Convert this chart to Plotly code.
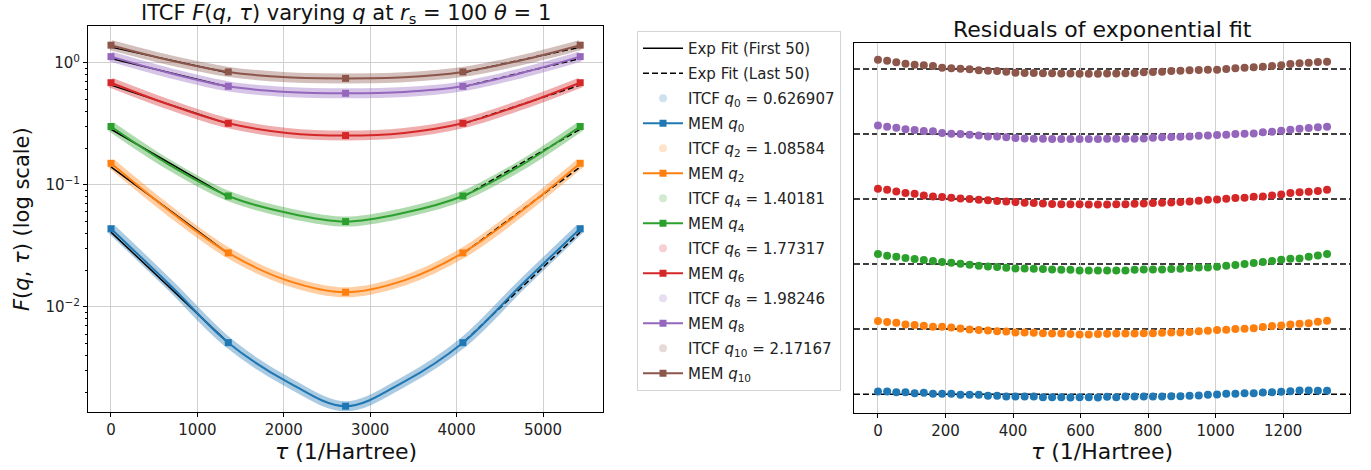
import numpy as np
import plotly.graph_objects as go

# ---------------- data ----------------
colors = ['#1f77b4', '#ff7f0e', '#2ca02c', '#d62728', '#9467bd', '#8c564b']
q_labels = ['0', '2', '4', '6', '8', '10']
q_values = ['0.626907', '1.08584', '1.40181', '1.77317', '1.98246', '2.17167']

# imaginary-time grid (1/Hartree) at which the curves were read
tau_grid = [0, 678.75, 1357.5, 2036.25, 2715, 3393.75, 4072.5, 4751.25, 5430]
F_q0 = [0.0437, 0.0152, 0.0051, 0.00245, 0.00154, 0.00245, 0.0051, 0.0152, 0.0437]
F_q2 = [0.150, 0.061, 0.0277, 0.0165, 0.0132, 0.0165, 0.0277, 0.061, 0.150]
F_q4 = [0.300, 0.145, 0.081, 0.059, 0.050, 0.059, 0.081, 0.145, 0.300]
F_q6 = [0.685, 0.452, 0.319, 0.266, 0.253, 0.266, 0.319, 0.452, 0.685]
F_q8 = [1.12, 0.822, 0.640, 0.575, 0.561, 0.575, 0.640, 0.822, 1.12]
F_q10 = [1.39, 1.047, 0.840, 0.759, 0.743, 0.759, 0.840, 1.047, 1.39]
F_all = [F_q0, F_q2, F_q4, F_q6, F_q8, F_q10]

# MEM markers are shown on every other grid point
mem_idx = [0, 2, 4, 6, 8]

# exponential fits (first 50 / last 50 points)
fit_first_tau = [0, 1330]
fit_last_tau = [4100, 5430]
fit_first = [[0.0410, 0.0053], [0.140, 0.0282], [0.285, 0.0815],
             [0.655, 0.320], [1.08, 0.640], [1.34, 0.835]]
fit_last = [[0.0053, 0.0410], [0.0282, 0.140], [0.0815, 0.285],
            [0.320, 0.655], [0.640, 1.08], [0.835, 1.34]]

# residuals of exponential fit (first 50 points), each series shifted by an offset
tau_res = np.linspace(0, 1330, 50)
res_offsets = [0, 1, 2, 3, 4, 5]
res_q0 = [0.041, 0.041, 0.031, 0.031, 0.015, 0.021, 0.005, 0.005, 0.005, -0.010,
          -0.010, -0.010, -0.026, -0.026, -0.036, -0.036, -0.036, -0.036, -0.046, -0.046,
          -0.046, -0.051, -0.046, -0.046, -0.051, -0.041, -0.046, -0.036, -0.036, -0.036,
          -0.036, -0.036, -0.031, -0.031, -0.026, -0.021, -0.010, -0.005, 0.005, 0.005,
          0.015, 0.015, 0.026, 0.031, 0.036, 0.046, 0.056, 0.056, 0.051, 0.051]
res_q2 = [0.123, 0.108, 0.097, 0.072, 0.062, 0.051, 0.036, 0.036, 0.026, 0.010,
          -0.005, -0.015, -0.021, -0.031, -0.036, -0.051, -0.051, -0.056, -0.062, -0.067,
          -0.067, -0.077, -0.082, -0.082, -0.077, -0.072, -0.067, -0.067, -0.067, -0.062,
          -0.062, -0.056, -0.051, -0.051, -0.046, -0.031, -0.026, -0.015, -0.010, 0.000,
          0.005, 0.015, 0.031, 0.046, 0.056, 0.072, 0.082, 0.092, 0.113, 0.128]
res_q4 = [0.154, 0.128, 0.113, 0.092, 0.077, 0.062, 0.046, 0.031, 0.021, 0.005,
          -0.010, -0.026, -0.036, -0.046, -0.056, -0.067, -0.067, -0.072, -0.077, -0.082,
          -0.087, -0.087, -0.097, -0.097, -0.097, -0.097, -0.097, -0.097, -0.087, -0.082,
          -0.082, -0.082, -0.077, -0.072, -0.062, -0.051, -0.051, -0.041, -0.026, -0.015,
          0.000, 0.015, 0.031, 0.046, 0.067, 0.082, 0.087, 0.113, 0.133, 0.154]
res_q6 = [0.159, 0.144, 0.118, 0.092, 0.082, 0.056, 0.041, 0.031, 0.021, 0.010,
          0.000, -0.010, -0.020, -0.030, -0.036, -0.046, -0.056, -0.062, -0.070, -0.076,
          -0.078, -0.080, -0.080, -0.082, -0.082, -0.082, -0.080, -0.078, -0.072, -0.067,
          -0.062, -0.057, -0.052, -0.046, -0.036, -0.026, -0.010, -0.005, 0.005, 0.015,
          0.020, 0.036, 0.041, 0.056, 0.072, 0.092, 0.103, 0.113, 0.123, 0.144]
res_q8 = [0.133, 0.113, 0.097, 0.072, 0.062, 0.046, 0.041, 0.015, 0.005, 0.000,
          -0.010, -0.021, -0.036, -0.036, -0.051, -0.062, -0.067, -0.072, -0.072, -0.077,
          -0.077, -0.077, -0.077, -0.077, -0.077, -0.072, -0.072, -0.072, -0.072, -0.067,
          -0.056, -0.051, -0.046, -0.041, -0.036, -0.026, -0.021, -0.015, -0.010, 0.000,
          0.005, 0.010, 0.026, 0.036, 0.051, 0.067, 0.082, 0.092, 0.103, 0.113]
res_q10 = [0.144, 0.128, 0.103, 0.082, 0.067, 0.056, 0.046, 0.021, 0.010, 0.005,
           -0.005, -0.020, -0.026, -0.031, -0.041, -0.056, -0.062, -0.062, -0.066, -0.066,
           -0.070, -0.070, -0.072, -0.072, -0.072, -0.070, -0.070, -0.066, -0.062, -0.051,
           -0.046, -0.041, -0.031, -0.026, -0.020, -0.015, -0.010, -0.010, 0.000, 0.010,
           0.020, 0.026, 0.036, 0.046, 0.056, 0.077, 0.087, 0.097, 0.108, 0.113]
res_all = [res_q0, res_q2, res_q4, res_q6, res_q8, res_q10]

x_ticks_left = [0, 1000, 2000, 3000, 4000, 5000]
x_ticks_right = [0, 200, 400, 600, 800, 1000, 1200]
y_ticks_left = [0.01, 0.1, 1]
y_ticktext_left = ['10<sup>\u22122</sup>', '10<sup>\u22121</sup>', '10<sup>0</sup>']


def rgba(hexc, a):
    h = hexc.lstrip('#')
    return 'rgba(%d,%d,%d,%.2f)' % (int(h[0:2], 16), int(h[2:4], 16), int(h[4:6], 16), a)


W, H = 1371, 470
fig = go.Figure()
DASH = '6px,3px'

# ---------------- legend entries ----------------
g = 0
def legend_trace(**kw):
    global g
    g += 1
    fig.add_trace(go.Scatter(x=[None], y=[None], xaxis='x', yaxis='y',
                             legendgroup='g%d' % g, showlegend=True, hoverinfo='skip', **kw))

legend_trace(mode='lines', line=dict(color='black', width=1.5), name='Exp Fit (First 50)')
legend_trace(mode='lines', line=dict(color='black', width=1.5, dash=DASH), name='Exp Fit (Last 50)')
for i in range(6):
    legend_trace(mode='markers', marker=dict(color=rgba(colors[i], 0.22), size=8, symbol='circle'),
                 name='ITCF <i>q</i><sub>%s</sub> = %s' % (q_labels[i], q_values[i]))
    legend_trace(mode='lines+markers', line=dict(color=colors[i], width=2),
                 marker=dict(color=colors[i], size=7, symbol='square'),
                 name='MEM <i>q</i><sub>%s</sub>' % q_labels[i])

# ---------------- left panel ----------------
for i in range(6):
    fig.add_trace(go.Scatter(x=tau_grid, y=F_all[i], mode='lines', line_shape='spline',
                             line=dict(color=rgba(colors[i], 0.38), width=10),
                             showlegend=False, xaxis='x', yaxis='y'))
for i in range(6):
    fig.add_trace(go.Scatter(x=fit_first_tau, y=fit_first[i], mode='lines',
                             line=dict(color='black', width=1.5), showlegend=False, xaxis='x', yaxis='y'))
    fig.add_trace(go.Scatter(x=fit_last_tau, y=fit_last[i], mode='lines',
                             line=dict(color='black', width=1.5, dash=DASH), showlegend=False, xaxis='x', yaxis='y'))
for i in range(6):
    fig.add_trace(go.Scatter(x=tau_grid, y=F_all[i], mode='lines', line_shape='spline',
                             line=dict(color=colors[i], width=2), showlegend=False, xaxis='x', yaxis='y'))
    fig.add_trace(go.Scatter(x=[tau_grid[k] for k in mem_idx], y=[F_all[i][k] for k in mem_idx],
                             mode='markers', marker=dict(color=colors[i], size=7, symbol='square'),
                             showlegend=False, xaxis='x', yaxis='y'))

# ---------------- right panel ----------------
shapes = []
for i in range(6):
    shapes.append(dict(type='line', xref='x2 domain', yref='y2', x0=0, x1=1,
                       y0=res_offsets[i], y1=res_offsets[i],
                       line=dict(color='black', width=1.5, dash=DASH), layer='below'))
    fig.add_trace(go.Scatter(x=tau_res, y=[r + res_offsets[i] for r in res_all[i]], mode='markers',
                             marker=dict(color=colors[i], size=8, line=dict(width=0)),
                             showlegend=False, xaxis='x2', yaxis='y2'))

grid = '#d0d0d0'
axis_common = dict(showline=True, linecolor='black', linewidth=1, mirror=True, ticks='outside',
                   ticklen=4, tickcolor='black', zeroline=False,
                   tickfont=dict(size=15, family='DejaVu Sans', color='#222'))

fig.update_layout(
    width=W, height=H, margin=dict(l=0, r=0, t=0, b=0),
    plot_bgcolor='white', paper_bgcolor='white',
    font=dict(family='DejaVu Sans', size=14, color='#222'),
    shapes=shapes,
    xaxis=dict(domain=[88 / W, 603 / W], range=[-266, 5694], tickvals=x_ticks_left,
               showgrid=True, gridcolor=grid, gridwidth=1, anchor='y', **axis_common),
    yaxis=dict(domain=[(H - 412) / H, (H - 26) / H], type='log', range=[-2.86, 0.30],
               tickvals=y_ticks_left, ticktext=y_ticktext_left,
               minor=dict(ticks='outside', ticklen=2, tickcolor='black', dtick='D1', showgrid=False),
               showgrid=True, gridcolor=grid, gridwidth=1, anchor='x', **axis_common),
    xaxis2=dict(domain=[854 / W, 1350 / W], range=[-71, 1398], tickvals=x_ticks_right,
                showgrid=True, gridcolor=grid, gridwidth=1, anchor='y2', **axis_common),
    yaxis2=dict(domain=[(H - 413) / H, (H - 43) / H], range=[-0.29, 5.40], anchor='x2',
                showline=True, linecolor='black', linewidth=1, mirror=True,
                showticklabels=False, ticks='', showgrid=False, zeroline=False),
    legend=dict(x=637 / W, y=1 - 31 / H, xanchor='left', yanchor='top',
                bgcolor='white', bordercolor='#d5d5d5', borderwidth=1,
                font=dict(size=15, family='DejaVu Sans', color='#222'),
                traceorder='grouped', tracegroupgap=2.5, itemwidth=40),
    annotations=[
        dict(text='ITCF <i>F</i>(<i>q</i>, <i>\u03c4</i>) varying <i>q</i> at <i>r</i><sub>s</sub> = 100 <i>\u03b8</i> = 1',
             x=345.5 / W, y=1 - 14 / H, xref='paper', yref='paper', showarrow=False,
             xanchor='center', yanchor='middle', font=dict(size=21, color='#111')),
        dict(text='Residuals of exponential fit', x=1102 / W, y=1 - 29 / H, xref='paper', yref='paper',
             showarrow=False, xanchor='center', yanchor='middle', font=dict(size=22, color='#111')),
        dict(text='<i>\u03c4</i> (1/Hartree)', x=345.5 / W, y=1 - 451 / H, xref='paper', yref='paper',
             showarrow=False, xanchor='center', yanchor='middle', font=dict(size=22, color='#111')),
        dict(text='<i>\u03c4</i> (1/Hartree)', x=1102 / W, y=1 - 451 / H, xref='paper', yref='paper',
             showarrow=False, xanchor='center', yanchor='middle', font=dict(size=22, color='#111')),
        dict(text='<i>F</i>(<i>q</i>, <i>\u03c4</i>) (log scale)', x=22 / W, y=1 - 219 / H,
             xref='paper', yref='paper', showarrow=False, textangle=-90,
             xanchor='center', yanchor='middle', font=dict(size=21, color='#111')),
    ],
)

fig.write_html('out.html')
